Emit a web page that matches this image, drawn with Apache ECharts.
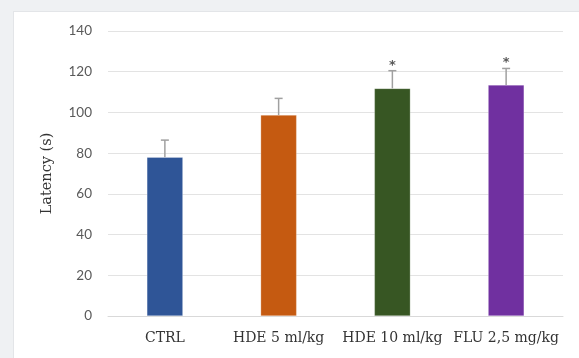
<!DOCTYPE html>
<html>
<head>
<meta charset="utf-8">
<script src="https://cdn.jsdelivr.net/npm/echarts@6/dist/echarts.min.js"></script>
<style>
  html, body { margin: 0; padding: 0; background: #eff1f3; }
  #panel { position: absolute; left: 13px; top: 11px; width: 580px; height: 360px; background: #fff; border: 1px solid #e3e5e8; box-sizing: border-box; }
  #chart { position: absolute; left: 0; top: 0; width: 579px; height: 358px; }
</style>
</head>
<body>
<div id="panel"></div>
<div id="chart"></div>
<script>
const categories = ['CTRL', 'HDE 5 ml/kg', 'HDE 10 ml/kg', 'FLU 2,5 mg/kg'];
const means = [78, 98.7, 111.8, 113.5];
const errors = [8.4, 8.2, 8.7, 8.1];
const significance = ['', '', '*', '*'];
const colors = ['#2f5597', '#c55a11', '#375623', '#7030a0'];
const yTicks = { min: 0, max: 140, interval: 20 };

const chart = echarts.init(document.getElementById('chart'), null, { renderer: 'canvas' });
const option = {
  backgroundColor: 'transparent',
  animation: false,
  grid: { left: 108, right: 16, top: 31, bottom: 42 },
  xAxis: {
    type: 'category',
    data: categories,
    axisLine: { lineStyle: { color: '#d9d9d9', width: 1 } },
    axisTick: { show: false },
    axisLabel: { interval: 0, color: '#333333', fontFamily: 'DejaVu Serif', fontSize: 14, margin: 15 }
  },
  yAxis: {
    type: 'value',
    min: yTicks.min, max: yTicks.max, interval: yTicks.interval,
    name: 'Latency (s)',
    nameLocation: 'middle',
    nameGap: 53,
    nameRotate: 90,
    nameTextStyle: { color: '#333333', fontFamily: 'DejaVu Serif', fontSize: 14.5 },
    axisLine: { show: false },
    axisTick: { show: false },
    axisLabel: { color: '#595959', fontFamily: 'Lato', fontSize: 13.5, margin: 16 },
    splitLine: { lineStyle: { color: '#e3e3e3', width: 1 } }
  },
  series: [
    {
      type: 'bar',
      barWidth: 36,
      data: means.map((v, i) => ({ value: v, itemStyle: { color: colors[i] } })),
      itemStyle: { borderColor: 'rgba(255,255,255,0.5)', borderWidth: 0.5 }
    },
    {
      type: 'custom',
      data: means.map((v, i) => [i, v, v + errors[i], significance[i]]),
      renderItem: function (params, api) {
        const x = api.coord([api.value(0), api.value(1)]);
        const top = api.coord([api.value(0), api.value(2)]);
        const cap = 4;
        const children = [
          { type: 'line', shape: { x1: x[0], y1: x[1], x2: top[0], y2: top[1] }, style: { stroke: '#a0a0a0', lineWidth: 1.5 } },
          { type: 'line', shape: { x1: top[0] - cap, y1: top[1], x2: top[0] + cap, y2: top[1] }, style: { stroke: '#a0a0a0', lineWidth: 1.5 } }
        ];
        const sig = significance[params.dataIndex];
        if (sig) {
          children.push({
            type: 'text',
            style: { text: sig, x: top[0], y: top[1] + 1, align: 'center', verticalAlign: 'bottom', fill: '#595959', font: 'bold 13px DejaVu Sans' }
          });
        }
        return { type: 'group', children: children };
      },
      z: 5
    }
  ]
};
chart.setOption(option);
</script>
</body>
</html>
